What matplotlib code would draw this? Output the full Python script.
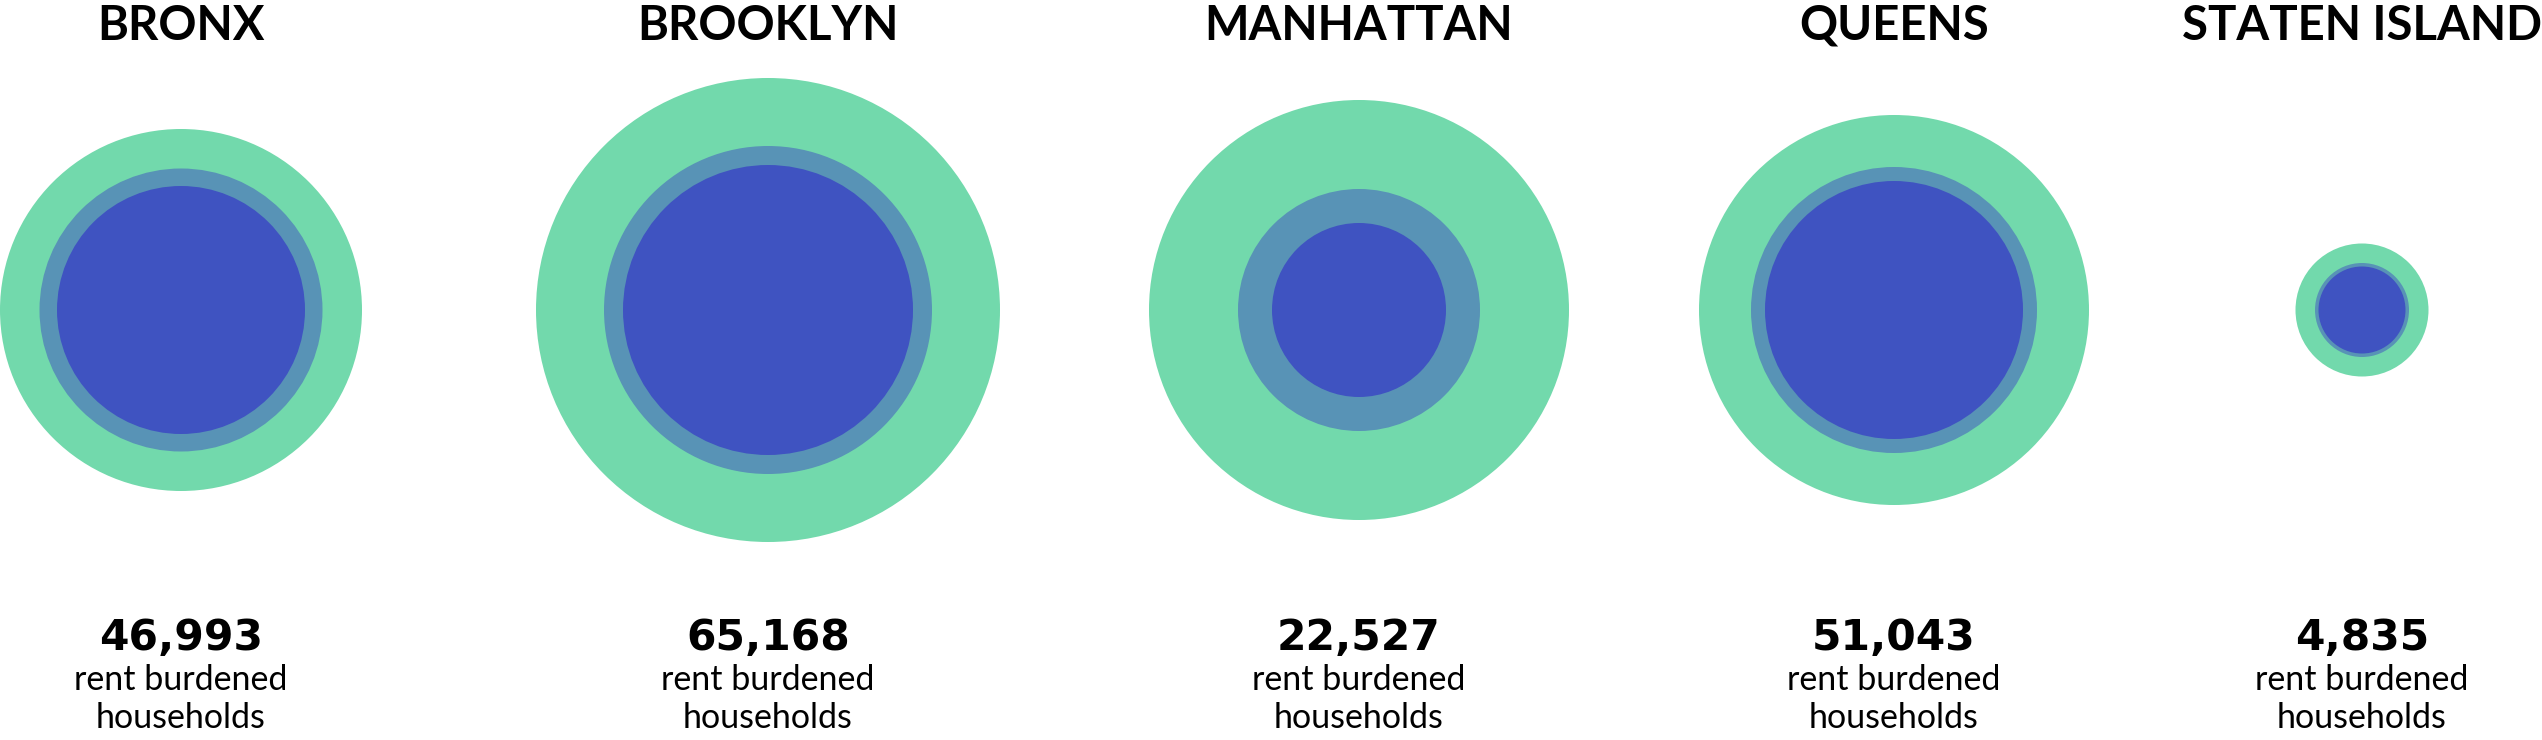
import matplotlib
matplotlib.use("Agg")
import matplotlib.pyplot as plt
from matplotlib.patches import Circle

# Boroughs and the rent burdened household counts printed under each circle
boroughs = ["BRONX", "BROOKLYN", "MANHATTAN", "QUEENS", "STATEN ISLAND"]
households = [46993, 65168, 22527, 51043, 4835]

# Circle radii (pixels): outer ring, middle ring, inner disc
outer_r = [181, 232, 210, 195, 66.5]
middle_r = [141.5, 164, 121, 143, 47]
inner_r = [124, 145, 87, 129, 43.5]

# layout
col_x = [181, 768, 1359, 1894, 2362]
cy = 310
W, H = 2542, 740

GREEN = "#72D9AC"
MID = "#5893B6"
BLUE = "#3F53C1"

fig = plt.figure(figsize=(W / 100, H / 100), dpi=100)
ax = fig.add_axes([0, 0, 1, 1])
ax.set_xlim(0, W)
ax.set_ylim(H, 0)
ax.set_aspect("equal")
ax.axis("off")

for i, name in enumerate(boroughs):
    x = col_x[i]
    ax.add_patch(Circle((x, cy), outer_r[i], color=GREEN, lw=0))
    ax.add_patch(Circle((x, cy), middle_r[i], color=MID, lw=0))
    ax.add_patch(Circle((x, cy), inner_r[i], color=BLUE, lw=0))

    ax.text(x, 40, name, ha="center", va="baseline", fontsize=34,
            fontweight="bold", family="Lato", color="black")
    ax.text(x, 650, f"{households[i]:,}", ha="center", va="baseline",
            fontsize=30.5, fontweight="bold", family="DejaVu Sans", color="black")
    ax.text(x, 690, "rent burdened", ha="center", va="baseline",
            fontsize=24.5, fontweight="normal", family="Lato", color="black")
    ax.text(x, 728, "households", ha="center", va="baseline",
            fontsize=24.5, fontweight="normal", family="Lato", color="black")

fig.savefig("out.png", dpi=100, facecolor="white")
